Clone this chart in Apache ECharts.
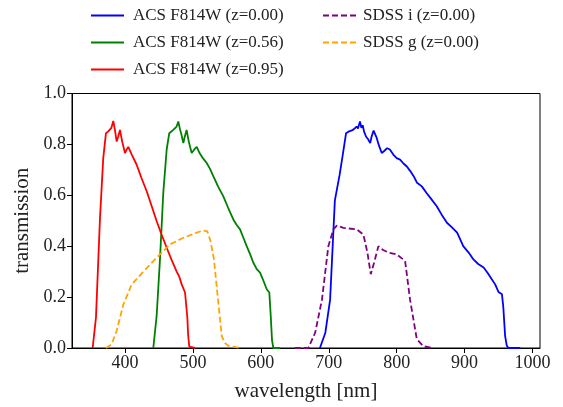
<!DOCTYPE html>
<html><head><meta charset="utf-8">
<script src="https://cdn.jsdelivr.net/npm/echarts@6/dist/echarts.min.js"></script>
<style>html,body{margin:0;padding:0;background:#fff}#c{width:563px;height:407px}</style>
</head><body><div id="c"></div>
<script>
const xTicks = [400, 500, 600, 700, 800, 900, 1000];
const yTicks = [0, 0.2, 0.4, 0.6, 0.8, 1.0];

const blueWl = [687,695,702,709,716,721,725.5,729,734,737,741,743,746,748,750,752,755,758,761,763,766,770,774,778,782,786,790,795,800,805,810,815,820,825,830,837,844,851,859,866,874,881,889,898,906,913,920,928,934,940,945,950,955,957,959.6,962,964.5,972,982];
const blueT  = [0,0.06,0.19,0.58,0.68,0.766,0.844,0.85,0.855,0.86,0.87,0.862,0.89,0.865,0.875,0.85,0.83,0.82,0.805,0.83,0.854,0.83,0.795,0.766,0.775,0.785,0.78,0.76,0.746,0.74,0.725,0.713,0.695,0.675,0.649,0.635,0.609,0.585,0.557,0.525,0.492,0.475,0.453,0.40,0.375,0.348,0.33,0.316,0.295,0.27,0.25,0.22,0.211,0.16,0.048,0.01,0,0,0];

const greenWl = [441.7,446.6,451.5,456.4,461.4,465.2,468,471.1,474,476,478.5,480.5,483,485.9,488,490.7,494,498.2,502,505.6,510,515,520.3,525,530,537,544.8,552,559.5,564,569.4,574,579.2,584,589,594,598.8,603,608.7,612.5,614.6,616.5,618.4,628];
const greenT  = [0,0.126,0.348,0.61,0.78,0.844,0.85,0.857,0.862,0.87,0.89,0.865,0.84,0.805,0.83,0.857,0.81,0.766,0.78,0.79,0.765,0.745,0.727,0.705,0.675,0.635,0.596,0.55,0.505,0.485,0.466,0.435,0.40,0.37,0.335,0.31,0.296,0.27,0.231,0.218,0.126,0.03,0,0];

const redWl = [352.4,357.3,363.2,368,372,375,377.9,380,382.8,385,387.8,390,392.6,396,400,402.5,404.9,410,417.2,424,432,439,446.7,454,461.4,468,476.1,480,483.5,488.4,490.9,491.8,493,494.7,503];
const redT  = [0,0.12,0.51,0.746,0.844,0.85,0.857,0.865,0.892,0.86,0.811,0.83,0.857,0.81,0.766,0.78,0.79,0.76,0.72,0.67,0.616,0.56,0.498,0.445,0.394,0.35,0.30,0.28,0.25,0.218,0.211,0.12,0.05,0.005,0];

const iWl = [650,670,680,690,699.4,706.8,711.8,721.5,741.2,751,756.9,761.9,766.7,773.1,780,787.9,800.1,812.4,819.7,829.6,839.3,851.7];
const iT  = [0,0,0.06,0.19,0.40,0.466,0.481,0.472,0.466,0.446,0.375,0.29,0.335,0.40,0.385,0.375,0.368,0.342,0.19,0.035,0.007,0];

const gWl = [372,380.4,387.8,397.5,409.9,427,446.7,466.3,485.9,505.6,515.3,521.2,526,531,537.4,542.4,547,552.1,569.4];
const gT  = [0,0.015,0.068,0.17,0.25,0.30,0.355,0.407,0.433,0.453,0.462,0.458,0.42,0.348,0.179,0.048,0.02,0.009,0];

const names = ['ACS F814W (z=0.00)','ACS F814W (z=0.56)','ACS F814W (z=0.95)','SDSS i (z=0.00)','SDSS g (z=0.00)'];
const FONT = 'Liberation Serif';
const pairs = (a,b)=>a.map((v,i)=>[v,b[i]]);

function mk(name, wl, t, color, dashed){
  return {name, type:'line', data:pairs(wl,t), symbol:'none', smooth:false,
    lineStyle:{color, width:1.8, type: dashed?[6,3]:'solid'}, itemStyle:{color}, animation:false};
}

const legendBase = {orient:'vertical', itemWidth:33, itemHeight:14, itemGap:10, top:2,
  itemStyle:{opacity:0},
  textStyle:{fontFamily:FONT, fontSize:17, color:'#222', padding:[0,0,0,4]}};

const chart = echarts.init(document.getElementById('c'), null, {renderer:'canvas'});
chart.setOption({
  animation:false,
  backgroundColor:'#fff',
  legend:[
    Object.assign({}, legendBase, {data:names.slice(0,3), left:85}),
    Object.assign({}, legendBase, {data:names.slice(3), left:317, textStyle:Object.assign({}, legendBase.textStyle, {padding:[0,0,0,2]})})
  ],
  grid:{left:72, right:23, top:93.5, bottom:58, show:true, borderColor:'#000', borderWidth:1, containLabel:false},
  xAxis:{type:'value', min:322, max:1011,
    name:'wavelength [nm]', nameLocation:'middle', nameGap:33,
    nameTextStyle:{fontFamily:FONT, fontSize:21, color:'#222'},
    axisLine:{show:true, onZero:false, lineStyle:{color:'#000', width:1}},
    axisTick:{show:true, inside:false, length:5, customValues:xTicks, lineStyle:{color:'#000'}},
    axisLabel:{customValues:xTicks, fontFamily:FONT, fontSize:18, color:'#222', margin:6, formatter:v=>String(v)},
    splitLine:{show:false}},
  yAxis:{type:'value', min:0, max:1, interval:0.2,
    name:'transmission', nameLocation:'middle', nameGap:38,
    nameTextStyle:{fontFamily:FONT, fontSize:21, color:'#222'},
    axisLine:{show:true, lineStyle:{color:'#000', width:1}},
    axisTick:{show:true, inside:false, length:5, lineStyle:{color:'#000'}},
    axisLabel:{fontFamily:FONT, fontSize:18, color:'#222', margin:6, formatter:v=>v.toFixed(1)},
    splitLine:{show:false}},
  series:[
    mk(names[0], blueWl, blueT, '#0000ff', false),
    mk(names[1], greenWl, greenT, '#008000', false),
    mk(names[2], redWl, redT, '#ff0000', false),
    mk(names[3], iWl, iT, '#800080', true),
    mk(names[4], gWl, gT, '#ffa500', true)
  ]
});
</script></body></html>
